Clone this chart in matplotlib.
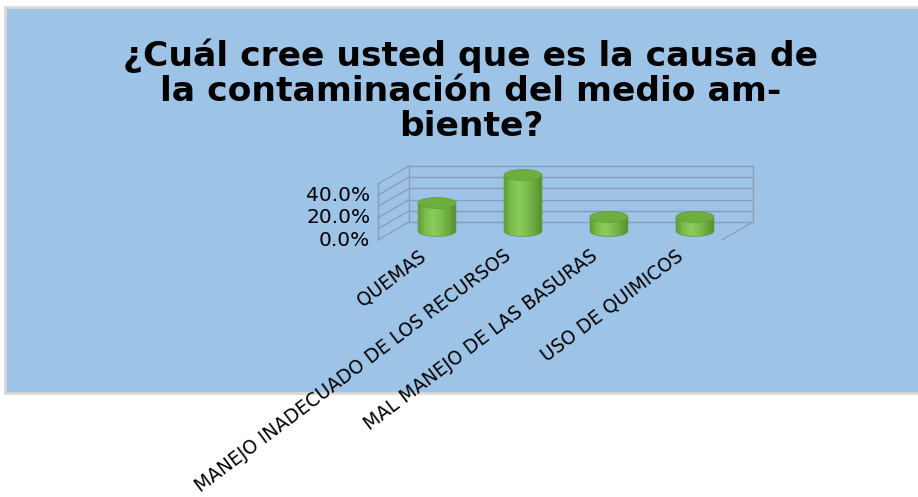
import numpy as np
import matplotlib.pyplot as plt
from matplotlib.patches import Rectangle, PathPatch, Ellipse
from matplotlib.path import Path
from matplotlib.colors import LinearSegmentedColormap

title = "¿Cuál cree usted que es la causa de\nla contaminación del medio am-\nbiente?"
categories = ["QUEMAS", "MANEJO INADECUADO DE LOS RECURSOS",
              "MAL MANEJO DE LAS BASURAS", "USO DE QUIMICOS"]
values = [25.0, 50.0, 12.5, 12.5]          # percent
yticks = [0, 20, 40]
grid_levels = [0, 10, 20, 30, 40, 50]

fig = plt.figure(figsize=(9.18, 4.97), dpi=100)

# blue chart area with light grey border
fig.patches.append(Rectangle((5 / 918, 1 - 393 / 497), 1.0, (393 - 7) / 497,
                             transform=fig.transFigure, facecolor='#9DC3E6',
                             edgecolor='#D9D9D9', linewidth=2, zorder=-5))

fig.text(0.513, 0.818, title, ha='center', va='center', fontsize=24.8,
         fontweight='bold', linespacing=1.08, color='black')

# plot area = middle depth plane of the 3D box
ax = fig.add_axes([394 / 918, 1 - 231 / 497, 344 / 918, 56 / 497])
ax.set_xlim(-0.5, 3.5)
ax.set_ylim(0, 50)
ax.axis('off')

dx_back, dy_back = 15 / 86, 9 / 1.12     # depth offset to back wall (data units)
dx_front, dy_front = -16 / 86, -9 / 1.12  # depth offset to front edge
x0, x1 = -0.5, 3.5
wall = dict(color='#8A9BB3', linewidth=0.9, clip_on=False, zorder=1)

# back wall grid + edges
for g in grid_levels:
    ax.plot([x0 + dx_back, x1 + dx_back], [g + dy_back] * 2, **wall)
    # side wall lines
    ax.plot([x0 + dx_front, x0 + dx_back], [g + dy_front, g + dy_back], **wall)
for xe in (x0, x1):
    ax.plot([xe + dx_back] * 2, [dy_back, 50 + dy_back], **wall)
ax.plot([x0 + dx_front] * 2, [dy_front, 50 + dy_front], **wall)
ax.plot([x1 + dx_front, x1 + dx_back], [dy_front, dy_back], **wall)

# y tick labels on the front edge
for t in yticks:
    ax.text(x0 + dx_front - 0.09, t + dy_front, f"{t:.1f}%", ha='right',
            va='center', fontsize=14.5, color='black', clip_on=False)

# cylinders
body_cmap = LinearSegmentedColormap.from_list(
    'cyl', ['#5E9C34', '#7DBF4E', '#8ACD5C', '#7DC04F', '#6BAA3E', '#568F2E'])
r = 0.22          # radius in category units
ry = 4.9          # ellipse half-height in percent units
theta = np.linspace(np.pi, 2 * np.pi, 40)
grad = np.linspace(0, 1, 200)[None, :]

for i, v in enumerate(values):
    arc_x = i + r * np.cos(theta)
    arc_y = ry * np.sin(theta)
    verts = [(i - r, v)] + list(zip(arc_x, arc_y)) + [(i + r, v), (i - r, v)]
    codes = [Path.MOVETO] + [Path.LINETO] * (len(verts) - 2) + [Path.CLOSEPOLY]
    body = PathPatch(Path(verts, codes), facecolor='none', edgecolor='#5F9C36',
                     linewidth=0.5, clip_on=False, zorder=3)
    ax.add_patch(body)
    img = ax.imshow(grad, cmap=body_cmap, aspect='auto', zorder=2,
                    extent=[i - r, i + r, -ry, v], origin='lower')
    img.set_clip_box(fig.bbox)
    img.set_clip_path(body)
    ax.add_patch(Ellipse((i, v), 2 * r, 2 * ry, facecolor='#6DAF3F',
                         edgecolor='#5F9C36', linewidth=0.5, clip_on=False,
                         zorder=4))

ax.set_xlim(-0.5, 3.5)
ax.set_ylim(0, 50)

# category labels
for i, c in enumerate(categories):
    ax.text(i - 0.16, -20.5, c, rotation=37, rotation_mode='anchor',
            ha='right', va='center', fontsize=13.4, color='black', clip_on=False)

fig.savefig('out.png', dpi=100)
